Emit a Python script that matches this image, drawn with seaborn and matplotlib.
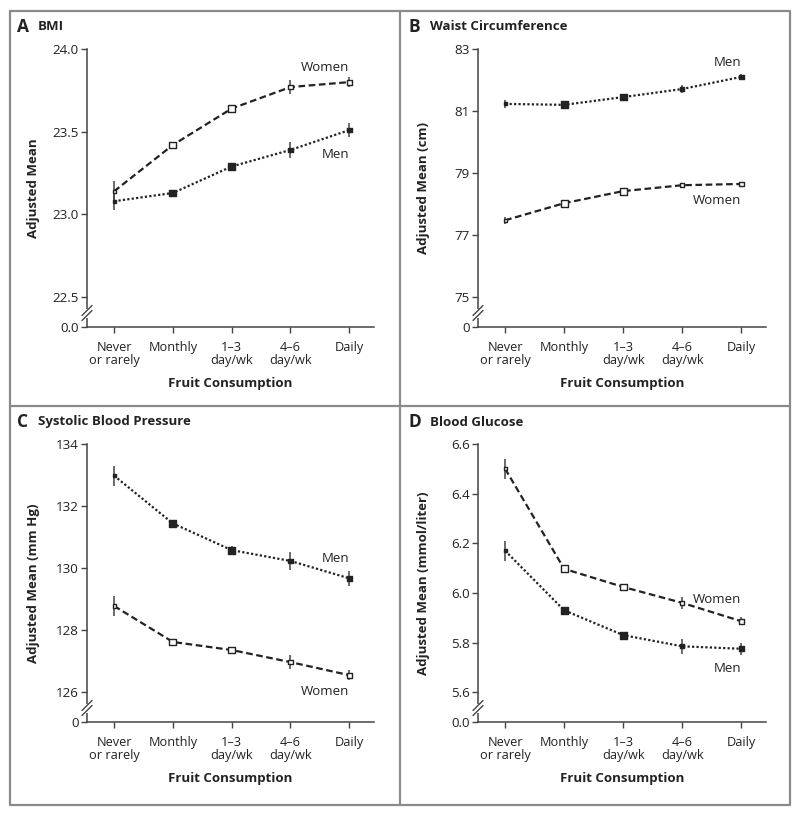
import matplotlib
matplotlib.use("Agg")
import numpy as np
import pandas as pd
import matplotlib.pyplot as plt
import seaborn as sns
from matplotlib.lines import Line2D

# ---- data ----
categories = ["Never\nor rarely", "Monthly", "1\u20133\nday/wk", "4\u20136\nday/wk", "Daily"]

bmi_women = [23.14, 23.42, 23.64, 23.77, 23.80]
bmi_women_err = [0.06, 0.015, 0.015, 0.04, 0.03]
bmi_men = [23.08, 23.13, 23.29, 23.39, 23.51]
bmi_men_err = [0.05, 0.015, 0.015, 0.05, 0.04]

waist_women = [77.48, 78.03, 78.42, 78.61, 78.65]
waist_women_err = [0.12, 0.04, 0.04, 0.06, 0.05]
waist_men = [81.23, 81.20, 81.45, 81.71, 82.10]
waist_men_err = [0.12, 0.04, 0.05, 0.12, 0.1]

sbp_women = [128.78, 127.62, 127.36, 126.97, 126.55]
sbp_women_err = [0.32, 0.1, 0.08, 0.22, 0.15]
sbp_men = [132.98, 131.44, 130.58, 130.23, 129.67]
sbp_men_err = [0.32, 0.1, 0.12, 0.3, 0.25]

glu_women = [6.50, 6.097, 6.024, 5.96, 5.886]
glu_women_err = [0.04, 0.01, 0.01, 0.025, 0.016]
glu_men = [6.17, 5.93, 5.83, 5.785, 5.775]
glu_men_err = [0.04, 0.01, 0.012, 0.03, 0.025]

# ---- style ----
sns.set_style("ticks")
plt.rcParams["font.family"] = ["Open Sans", "DejaVu Sans"]
INK = "#222222"
AXC = "#444444"
BORDER = "#8a8a8a"
MARKER_S = [5, 24, 24, 9, 12]   # marker area per category (visual only)

W, H = 800, 815
fig = plt.figure(figsize=(W / 100, H / 100), dpi=100)


def px_rect(l, t, r, b):
    return [l / W, 1 - b / H, (r - l) / W, (b - t) / H]


panels = [
    dict(letter="A", title="BMI", rect=(87, 49, 374, 327), title_xy=(17, 27),
         ylabel="Adjusted Mean", ticks=[22.5, 23.0, 23.5, 24.0], fmt="{:.1f}", zero="0.0",
         women=(bmi_women, bmi_women_err), men=(bmi_men, bmi_men_err),
         wlab=23.89, mlab=23.36),
    dict(letter="B", title="Waist Circumference", rect=(478, 49, 766, 327), title_xy=(409, 27),
         ylabel="Adjusted Mean (cm)", ticks=[75, 77, 79, 81, 83], fmt="{:.0f}", zero="0",
         women=(waist_women, waist_women_err), men=(waist_men, waist_men_err),
         wlab=78.12, mlab=82.55),
    dict(letter="C", title="Systolic Blood Pressure", rect=(87, 444, 374, 722), title_xy=(17, 422),
         ylabel="Adjusted Mean (mm Hg)", ticks=[126, 128, 130, 132, 134], fmt="{:.0f}", zero="0",
         women=(sbp_women, sbp_women_err), men=(sbp_men, sbp_men_err),
         wlab=126.03, mlab=130.32),
    dict(letter="D", title="Blood Glucose", rect=(478, 444, 766, 722), title_xy=(409, 422),
         ylabel="Adjusted Mean (mmol/liter)", ticks=[5.6, 5.8, 6.0, 6.2, 6.4, 6.6], fmt="{:.1f}", zero="0.0",
         women=(glu_women, glu_women_err), men=(glu_men, glu_men_err),
         wlab=5.975, mlab=5.697),
]

x = np.arange(len(categories))

for p in panels:
    l, t, r, b = p["rect"]
    ax = fig.add_axes(px_rect(l, t, r, b))
    lo, hi = p["ticks"][0], p["ticks"][-1]
    bottom = lo - 0.12 * (hi - lo)

    for sex, ls, face in [("women", (0, (3, 1.6)), "white"), ("men", (0, (1, 1)), INK)]:
        vals, err = p[sex]
        df = pd.DataFrame({"x": x, "y": vals, "err": err})
        ax.errorbar(df["x"], df["y"], yerr=df["err"], fmt="none", ecolor=AXC,
                    elinewidth=1.1, capsize=0, zorder=2)
        sns.lineplot(data=df, x="x", y="y", ax=ax, color=INK, linewidth=1.6,
                     linestyle=ls, zorder=3)
        sns.scatterplot(data=df, x="x", y="y", ax=ax, marker="s", s=MARKER_S,
                        facecolor=face, edgecolor=INK, linewidth=1.0, zorder=4)

    ax.text(4.0, p["wlab"], "Women", ha="right", va="center", fontsize=9.5, color=INK)
    ax.text(4.0, p["mlab"], "Men", ha="right", va="center", fontsize=9.5, color=INK)

    ax.set_xlim(-0.46, 4.42)
    ax.set_ylim(bottom, hi)
    ax.set_xticks(x)
    ax.set_xticklabels(categories, fontsize=9.2, color=INK, linespacing=1.05)
    ax.set_yticks([bottom] + p["ticks"])
    ax.set_yticklabels([p["zero"]] + [p["fmt"].format(v) for v in p["ticks"]],
                       fontsize=9.6, color=INK)
    ax.tick_params(axis="both", direction="out", length=4, width=1, color=AXC, pad=2)
    ax.tick_params(axis="x", pad=6)
    for s in ["top", "right"]:
        ax.spines[s].set_visible(False)
    for s in ["left", "bottom"]:
        ax.spines[s].set_color(AXC)
        ax.spines[s].set_linewidth(1.1)

    ax.set_xlabel("Fruit Consumption", fontsize=9.5, fontweight="bold", color=INK)
    ax.xaxis.set_label_coords(0.5, -0.18)
    ax.set_ylabel(p["ylabel"], fontsize=9.5, fontweight="bold", color=INK)
    ax.yaxis.set_label_coords(-0.165, 0.5)

    # axis break marks
    aw, ah = r - l, b - t
    yc = 14 / ah
    gap = 2.5 / ah
    ax.add_line(Line2D([0, 0], [yc - gap, yc + gap], transform=ax.transAxes,
                       color="white", linewidth=3, clip_on=False, zorder=5))
    for dy in (-gap, gap):
        ax.add_line(Line2D([-5 / aw, 5 / aw], [yc + dy - 5 / ah, yc + dy + 5 / ah],
                           transform=ax.transAxes, color=AXC, linewidth=1,
                           clip_on=False, zorder=6))

    tx, ty = p["title_xy"]
    fig.text(tx / W, 1 - ty / H, p["letter"], fontsize=12.5, fontweight="bold",
             va="center", ha="left", color=INK)
    fig.text((tx + 21) / W, 1 - ty / H, p["title"], fontsize=9.5, fontweight="bold",
             va="center", ha="left", color=INK)

# panel frame
for xs, ys in [([10, 790, 790, 10, 10], [11, 11, 805, 805, 11]),
               ([400, 400], [11, 805]), ([10, 790], [406, 406])]:
    fig.add_artist(Line2D([v / W for v in xs], [1 - v / H for v in ys],
                          color=BORDER, linewidth=1.6))

fig.savefig("out.png", dpi=100)
